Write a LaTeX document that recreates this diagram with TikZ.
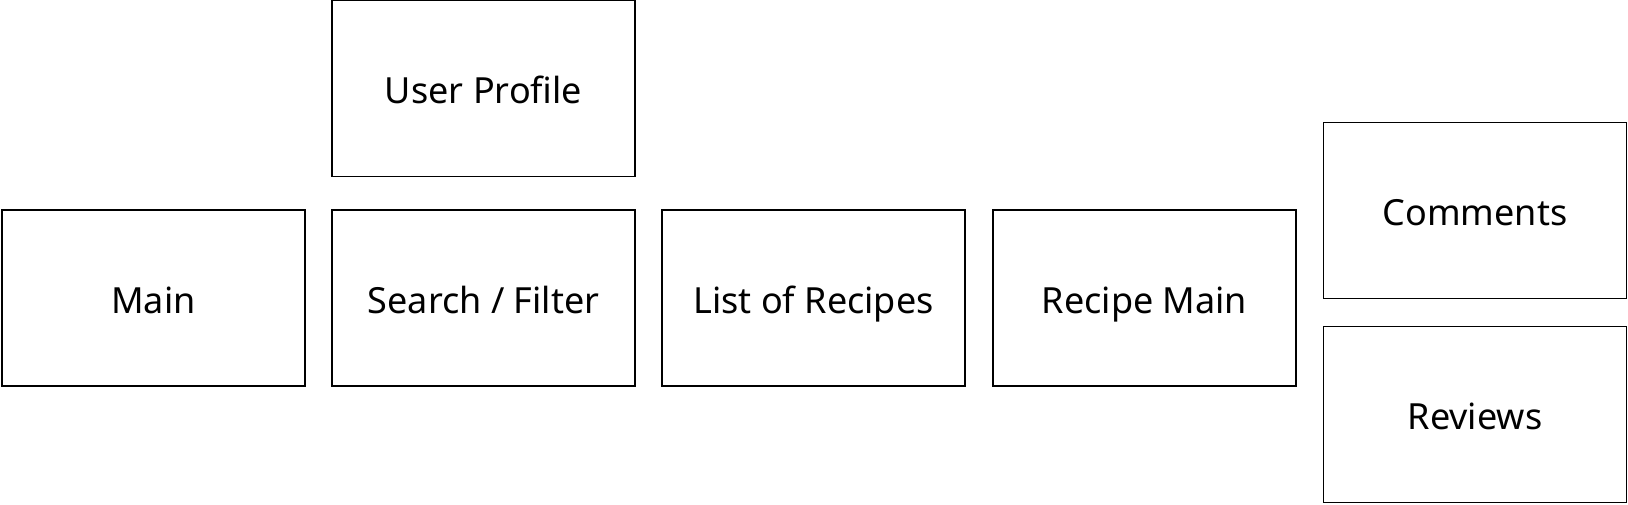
\documentclass[tikz,border=0pt]{standalone}
\usepackage{fontspec}
\setmainfont{Noto Sans}
\begin{document}
\begin{tikzpicture}[x=1pt,y=-1pt,
  box/.style={draw, line width=1.3pt, minimum width=303pt, minimum height=176pt, inner sep=0pt, text height=36pt, text depth=6pt, font=\fontsize{36}{40}\selectfont}]
\useasboundingbox (0,0) rectangle (1628,504);
\node[box] (main) at (153.5,298) {Main};
\node[box] (search) at (483.5,298) {Search / Filter};
\node[box] (profile) at (483.5,88.5) {User Profile};
\node[box] (list) at (813.5,298) {List of Recipes};
\node[box] (recipe) at (1144.5,298) {Recipe Main};
\node[box] (comments) at (1475,210.5) {Comments};
\node[box] (reviews) at (1475,414.5) {Reviews};
\end{tikzpicture}
\end{document}
